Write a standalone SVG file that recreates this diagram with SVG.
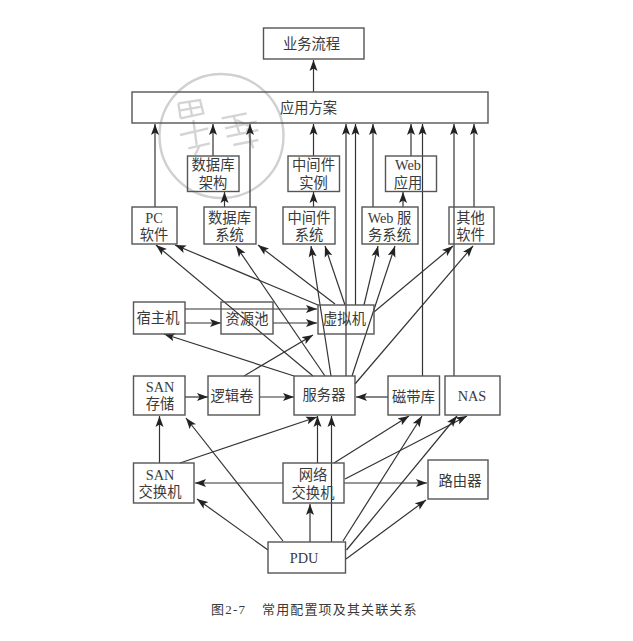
<svg xmlns="http://www.w3.org/2000/svg" width="633" height="641" viewBox="0 0 633 641">
<style>
text{font-family:"Liberation Serif","Noto Sans CJK SC",serif;font-size:14.300px;fill:#3a3a3a;text-anchor:middle}
.box{fill:none;stroke:#555;stroke-width:1.400}
#connectors line{stroke:#333;stroke-width:1.200;marker-end:url(#a)}
.stamp{fill:none;stroke:#d0d0d0;stroke-width:2.400}
.marks{fill:none;stroke:#d4d4d4;stroke-width:7}
.cap{font-size:13px;text-anchor:start}
</style>
<defs><marker id="a" markerUnits="userSpaceOnUse" markerWidth="12" markerHeight="9" refX="11" refY="4.500" orient="auto"><path d="M0 0.500L11 4.500L0 8.500L2.500 4.500Z" fill="#222"/></marker></defs>
<rect width="633" height="641" fill="#fff"/>
<g id="stamp">
<circle class="stamp" cx="221.500" cy="136" r="62"/>
<path class="marks" transform="translate(150 65) scale(.3333)" d="M85 115L92 160M85 115L150 105L160 145L92 160M118 110L126 152M88 137L155 125M90 210L175 190M130 165L140 240M115 250L180 235M135 270L150 240M215 160L290 145M225 190L320 170M250 150L270 210M230 215L325 195M250 240L325 225M290 190L310 250M260 165L300 185"/>
</g>
<g id="connectors">
<line x1="313.500" y1="92" x2="313.500" y2="60"/>
<line x1="155" y1="207" x2="155" y2="124"/>
<line x1="213" y1="156" x2="213" y2="124"/>
<line x1="250" y1="207" x2="250" y2="124"/>
<line x1="224.500" y1="207" x2="224.500" y2="192"/>
<line x1="313.500" y1="156" x2="313.500" y2="124"/>
<line x1="313.500" y1="207" x2="313.500" y2="192"/>
<line x1="346" y1="376" x2="346" y2="124"/>
<line x1="355.500" y1="305" x2="355.500" y2="124"/>
<line x1="373" y1="207" x2="373" y2="124"/>
<line x1="411" y1="156" x2="411" y2="124"/>
<line x1="403" y1="207" x2="403" y2="192"/>
<line x1="422.500" y1="376" x2="422.500" y2="124"/>
<line x1="454" y1="376" x2="454" y2="124"/>
<line x1="474" y1="207" x2="474" y2="124"/>
<line x1="318" y1="305" x2="175" y2="245"/>
<line x1="335" y1="304" x2="258" y2="245"/>
<line x1="313" y1="376" x2="156" y2="245"/>
<line x1="325" y1="376" x2="236" y2="246"/>
<line x1="331" y1="376" x2="311" y2="246"/>
<line x1="345" y1="305" x2="325" y2="246"/>
<line x1="364" y1="305" x2="378" y2="246"/>
<line x1="352" y1="376" x2="395" y2="246"/>
<line x1="374" y1="312" x2="453" y2="246"/>
<line x1="355" y1="384" x2="473" y2="246"/>
<line x1="185" y1="309" x2="317" y2="309"/>
<line x1="185" y1="323" x2="221" y2="323"/>
<line x1="273" y1="323" x2="317" y2="323"/>
<line x1="294" y1="376" x2="164" y2="334"/>
<line x1="244" y1="376" x2="313" y2="335"/>
<line x1="185" y1="397" x2="208" y2="397"/>
<line x1="259.500" y1="397" x2="294" y2="397"/>
<line x1="388" y1="397" x2="356" y2="397"/>
<line x1="180" y1="463" x2="317" y2="417"/>
<line x1="159.500" y1="463" x2="159.500" y2="416"/>
<line x1="283" y1="483" x2="195" y2="483"/>
<line x1="317.500" y1="463" x2="317.500" y2="416"/>
<line x1="331.500" y1="542" x2="331.500" y2="416"/>
<line x1="334" y1="463" x2="409" y2="416"/>
<line x1="345" y1="479" x2="467" y2="416"/>
<line x1="344" y1="483" x2="427" y2="483"/>
<line x1="310" y1="542" x2="310" y2="504"/>
<line x1="283" y1="541" x2="186" y2="418"/>
<line x1="268" y1="550" x2="197" y2="499"/>
<line x1="343" y1="541" x2="422" y2="416"/>
<line x1="346.500" y1="550" x2="457" y2="416"/>
<line x1="346" y1="559" x2="426" y2="500"/>
</g>
<g id="n1"><rect class="box" x="263.500" y="28" width="100.500" height="31"/><text x="311.500" y="48.500">业务流程</text></g>
<g id="n2"><rect class="box" x="132" y="92" width="356" height="31"/><text x="308.500" y="112.500">应用方案</text></g>
<g id="n3"><rect class="box" x="187.500" y="156" width="51.500" height="35.500"/><text y="169.500"><tspan x="213">数据库</tspan><tspan x="213" dy="18">架构</tspan></text></g>
<g id="n4"><rect class="box" x="288" y="156" width="51.500" height="35.500"/><text y="169.500"><tspan x="313.500">中间件</tspan><tspan x="313.500" dy="18">实例</tspan></text></g>
<g id="n5"><rect class="box" x="385.500" y="156" width="51" height="35.500"/><text y="169.500"><tspan x="408">Web</tspan><tspan x="408" dy="18">应用</tspan></text></g>
<g id="n6"><rect class="box" x="132" y="207" width="45" height="37"/><text y="223"><tspan x="154">PC</tspan><tspan x="154" dy="17">软件</tspan></text></g>
<g id="n7"><rect class="box" x="204" y="207" width="52" height="37"/><text y="223"><tspan x="229.500">数据库</tspan><tspan x="229.500" dy="17">系统</tspan></text></g>
<g id="n8"><rect class="box" x="283" y="207" width="52" height="37"/><text y="223"><tspan x="309">中间件</tspan><tspan x="309" dy="17">系统</tspan></text></g>
<g id="n9"><rect class="box" x="362" y="207" width="56" height="37"/><text y="223"><tspan x="389.500">Web 服</tspan><tspan x="389.500" dy="17">务系统</tspan></text></g>
<g id="n10"><rect class="box" x="449" y="207" width="45" height="37"/><text y="223"><tspan x="470.500">其他</tspan><tspan x="470.500" dy="17">软件</tspan></text></g>
<g id="n11"><rect class="box" x="133.500" y="302" width="51.500" height="32"/><text x="158" y="323">宿主机</text></g>
<g id="n12"><rect class="box" x="221" y="302" width="52" height="32"/><text x="247" y="324">资源池</text></g>
<g id="n13"><rect class="box" x="318" y="305" width="56" height="29"/><text x="344.500" y="324">虚拟机</text></g>
<g id="n14"><rect class="box" x="133.500" y="376" width="51.500" height="39"/><text y="392"><tspan x="160">SAN</tspan><tspan x="160" dy="17">存储</tspan></text></g>
<g id="n15"><rect class="box" x="208" y="376" width="51.500" height="39"/><text x="232" y="401">逻辑卷</text></g>
<g id="n16"><rect class="box" x="294" y="376" width="61" height="39"/><text x="324" y="400">服务器</text></g>
<g id="n17"><rect class="box" x="388" y="376" width="51.500" height="39"/><text x="413.500" y="402">磁带库</text></g>
<g id="n18"><rect class="box" x="445" y="376" width="55" height="39"/><text x="472" y="401">NAS</text></g>
<g id="n19"><rect class="box" x="133.500" y="463" width="60.500" height="40"/><text y="480"><tspan x="160">SAN</tspan><tspan x="160" dy="17">交换机</tspan></text></g>
<g id="n20"><rect class="box" x="283" y="463" width="61" height="40"/><text y="479.500"><tspan x="313">网络</tspan><tspan x="313" dy="18">交换机</tspan></text></g>
<g id="n21"><rect class="box" x="428" y="460" width="60" height="39"/><text x="460" y="486">路由器</text></g>
<g id="n22"><rect class="box" x="268" y="542" width="77.500" height="31"/><text x="304" y="563">PDU</text></g>
<text class="cap" x="211" y="614" style="letter-spacing:1.200px">图2-7</text><text class="cap" x="262" y="614" style="letter-spacing:1.150px">常用配置项及其关联关系</text>
</svg>
